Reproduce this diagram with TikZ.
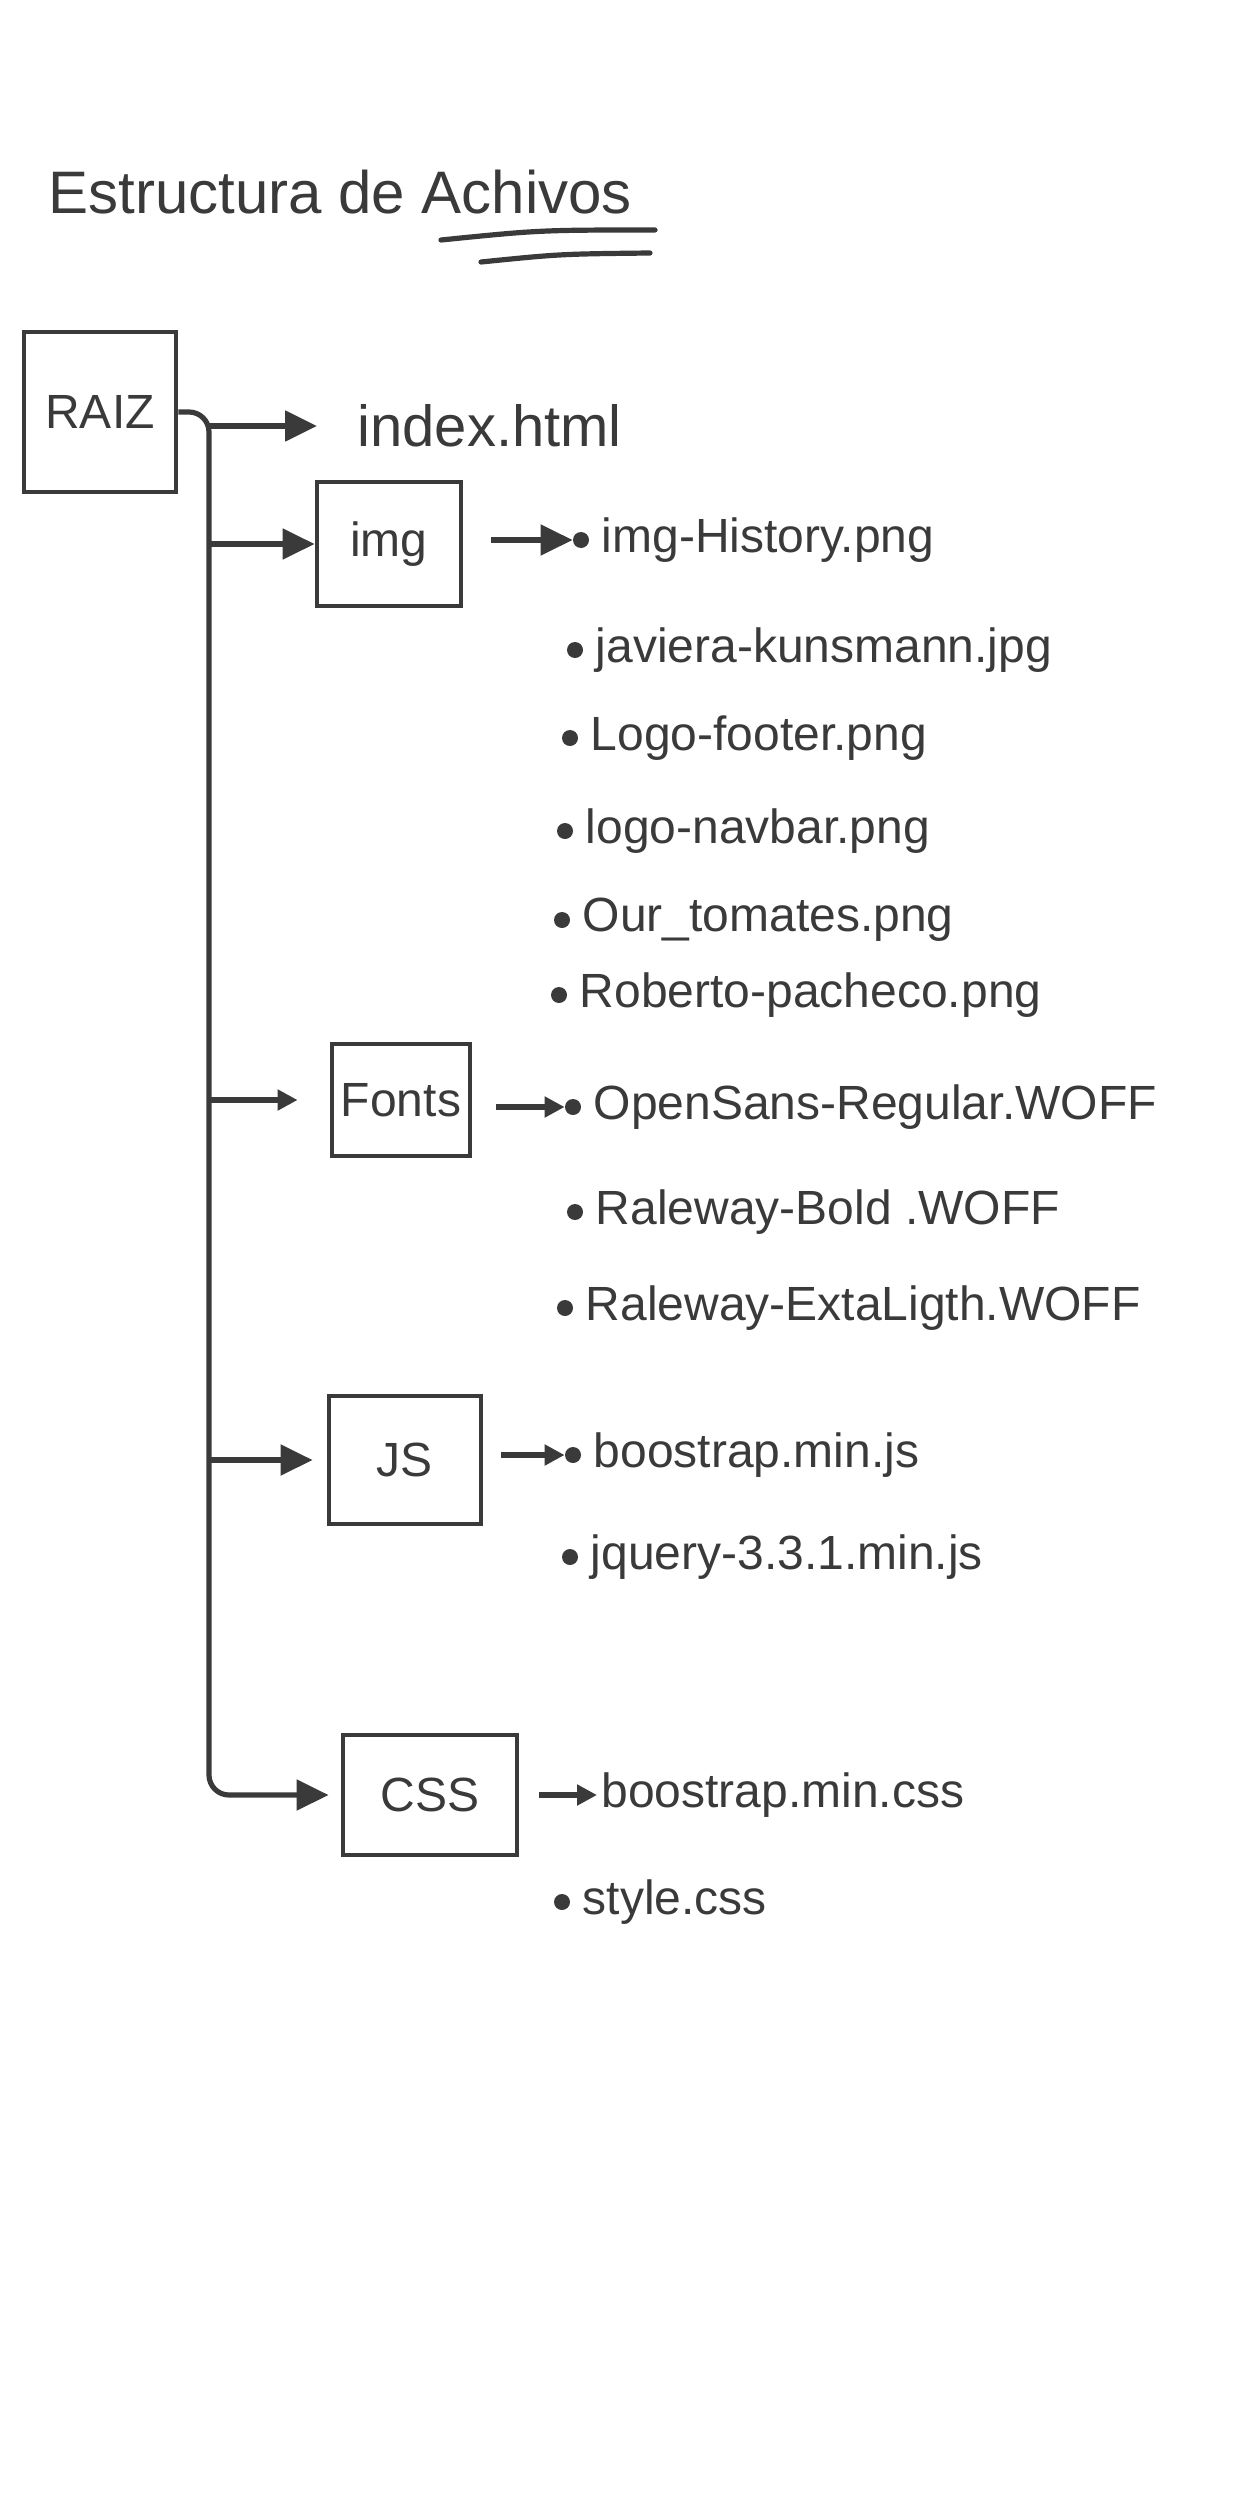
\documentclass[tikz,border=0pt]{standalone}
\usepackage{fontspec}
\setmainfont{Liberation Sans}
\usepackage{xcolor}
\usetikzlibrary{arrows.meta,positioning}
\definecolor{ink}{HTML}{3A3A3A}
\tikzset{
  fdir/.style   ={draw=ink, line width=2.4pt, align=center, inner sep=2pt,
                  text=ink, font=\fontsize{24}{28}\selectfont},
  ffile/.style  ={inner sep=2pt, text=ink, font=\fontsize{24}{28}\selectfont},
  ftitle/.style ={inner sep=0pt, text=ink, font=\fontsize{30}{34}\selectfont},
  fdot/.style   ={circle, fill=ink, inner sep=0pt, minimum size=8pt},
  fline/.style  ={ink, line width=2.6pt, line cap=round},
  far/.style    ={-{Triangle[length=16pt,width=15pt]}, ink, line width=2.6pt},
  fsar/.style   ={-{Triangle[length=10pt,width=10pt]}, ink, line width=2.6pt},
}

\begin{document}
\begin{tikzpicture}[x=0.5pt, y=-0.5pt]
\useasboundingbox (0,0) rectangle (1239,2515);

\node[ftitle, anchor=west] (title) at (48,192) {Estructura de Achivos};
\draw[fline] (441,240) .. controls (540,230) .. (655,230);
\draw[fline] (481,262) .. controls (560,254) .. (650,253);

\node[fdir, minimum width=76pt, minimum height=80pt] (raiz) at (100,412) {RAIZ};
\coordinate (trunk) at (209,412);

\node[ffile, anchor=west, font=\fontsize{29}{33}\selectfont] (idx) at (353,426) {index.html};

\node[fdir, minimum width=72pt, minimum height=62pt] (img) at (389,544) {img};
\node[fdot] (d0) at (581,540) {};
\node[ffile, right=4pt of d0] (f0) {img-History.png};
\node[fdot] (d1) at (575,650) {};
\node[ffile, right=4pt of d1] (f1) {javiera-kunsmann.jpg};
\node[fdot] (d2) at (570,738) {};
\node[ffile, right=4pt of d2] (f2) {Logo-footer.png};
\node[fdot] (d3) at (565,831) {};
\node[ffile, right=4pt of d3] (f3) {logo-navbar.png};
\node[fdot] (d4) at (562,920) {};
\node[ffile, right=4pt of d4] (f4) {Our\_tomates.png};
\node[fdot] (d5) at (559,995) {};
\node[ffile, right=4pt of d5] (f5) {Roberto-pacheco.png};

\node[fdir, minimum width=69pt, minimum height=56pt] (fonts) at (401,1100) {Fonts};
\node[fdot] (d6) at (573,1107) {};
\node[ffile, right=4pt of d6] (f6) {OpenSans-Regular.WOFF};
\node[fdot] (d7) at (575,1212) {};
\node[ffile, right=4pt of d7] (f7) {Raleway-Bold .WOFF};
\node[fdot] (d8) at (565,1308) {};
\node[ffile, right=4pt of d8] (f8) {Raleway-ExtaLigth.WOFF};

\node[fdir, minimum width=76pt, minimum height=64pt] (js) at (405,1460) {JS};
\node[fdot] (d9) at (573,1455) {};
\node[ffile, right=4pt of d9] (f9) {boostrap.min.js};
\node[fdot] (d10) at (570,1557) {};
\node[ffile, right=4pt of d10] (f10) {jquery-3.3.1.min.js};

\node[fdir, minimum width=87pt, minimum height=60pt] (css) at (430,1795) {CSS};
\node[ffile, anchor=west] (f11) at (597,1795) {boostrap.min.css};
\node[fdot] (d11) at (562,1902) {};
\node[ffile, right=4pt of d11] (f12) {style.css};

\draw[far, rounded corners=10pt, shorten >=6pt] (raiz.east) -- (trunk) |- (css.west);
\draw[far, shorten >=18pt] (trunk |- idx.west) -- (idx.west);
\draw[far] (trunk |- img.west) -- (img.west);
\draw[fsar, shorten >=16pt] (trunk |- fonts.west) -- (fonts.west);
\draw[far, shorten >=7pt] (trunk |- js.west) -- (js.west);

\draw[far, shorten <=14pt] (img.east |- d0) -- (d0);
\draw[fsar, shorten <=12pt] (fonts.east |- d6) -- (d6);
\draw[fsar, shorten <=9pt] (js.east |- d9) -- (d9);
\draw[fsar, shorten <=10pt] (css.east) -- (f11.west);

\end{tikzpicture}
\end{document}
